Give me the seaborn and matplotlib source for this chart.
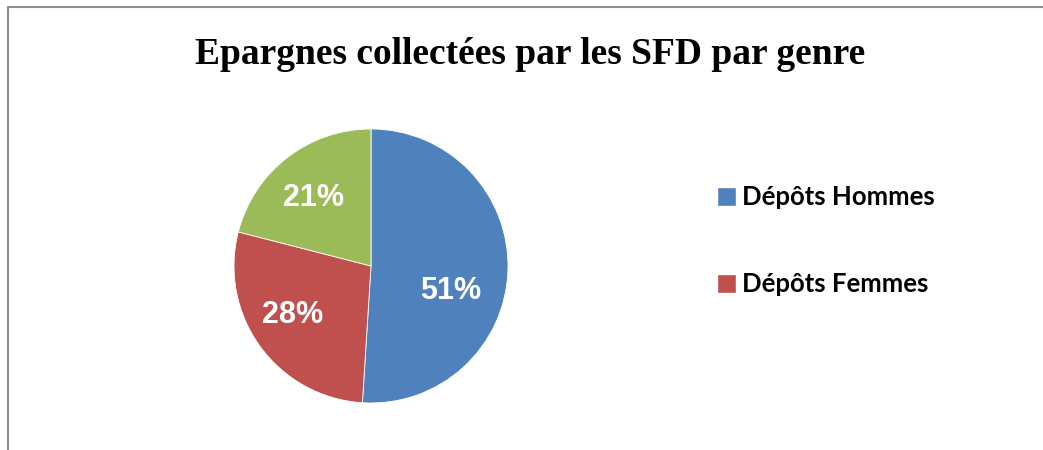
import matplotlib
matplotlib.use("Agg")
import matplotlib.pyplot as plt
import seaborn as sns
from matplotlib.patches import Patch

# Data
categories = ["Dépôts Hommes", "Dépôts Femmes", "Autres"]
shares = [51, 28, 21]
colors = ["#4F81BD", "#C0504D", "#9BBB59"]
legend_entries = ["Dépôts Hommes", "Dépôts Femmes"]
title = "Epargnes collectées par les SFD par genre"

sns.set_theme(style="white")
plt.rcParams["font.family"] = ["Liberation Sans", "DejaVu Sans"]
plt.rcParams["text.color"] = "black"

W, H = 1043, 450
fig = plt.figure(figsize=(W / 100, H / 100), dpi=100)

# chart area border (cropped on right/bottom)
fig.add_artist(plt.Line2D([8 / W, 8 / W], [0, 1 - 7 / H], color="#8c8c8c", lw=1.5))
fig.add_artist(plt.Line2D([8 / W, 1], [1 - 7 / H, 1 - 7 / H], color="#8c8c8c", lw=1.5))

# pie axes: centre (371, 266) px, radius 137 px
cx, cy, r = 371, 266, 137
ax = fig.add_axes([(cx - r) / W, (H - cy - r) / H, 2 * r / W, 2 * r / H])
wedges, texts, autotexts = ax.pie(
    shares,
    colors=colors,
    startangle=90,
    counterclock=False,
    autopct="%1.0f%%",
    pctdistance=0.6,
    wedgeprops=dict(edgecolor="white", linewidth=0.6),
    textprops=dict(color="white", fontsize=22, fontweight="bold"),
)
ax.set_xlim(-1, 1)
ax.set_ylim(-1, 1)

# Excel-like label placement
label_pos = [(0.58, -0.18), (-0.57, -0.36), (-0.42, 0.50)]
for t, (x, y) in zip(autotexts, label_pos):
    t.set_position((x, y))
    t.set_ha("center")
    t.set_va("center")

fig.text(530 / W, 1 - 55 / H, title, ha="center", va="center", color="black",
         fontsize=27, fontweight="bold", family=["Liberation Serif", "DejaVu Serif"])

handles = [Patch(facecolor=c) for c in colors[:2]]
leg = fig.legend(handles, legend_entries, loc="upper left",
                 bbox_to_anchor=(694 / W, 1 - 162 / H), frameon=False,
                 prop=dict(family=["Lato", "DejaVu Sans"], weight="bold", size=18.5),
                 handlelength=0.75, handleheight=0.75, handletextpad=0.2,
                 labelspacing=2.45)
for t in leg.get_texts():
    t.set_color("black")

fig.savefig("out.png", dpi=100)
